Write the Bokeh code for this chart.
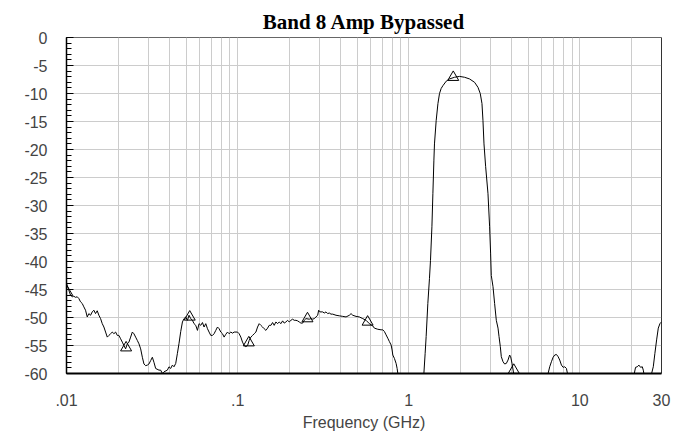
from bokeh.plotting import figure
from bokeh.models import Range1d, FixedTicker, CustomJSTickFormatter, Span
from bokeh.embed import file_html
from bokeh.resources import INLINE

TITLE = "Band 8 Amp Bypassed"
X_LABEL = "Frequency (GHz)"
X_TICKS = [0.01, 0.1, 1, 10, 30]
Y_TICKS = [0, -5, -10, -15, -20, -25, -30, -35, -40, -45, -50, -55, -60]
Y_MIN, Y_MAX = -60, 0
X_MIN, X_MAX = 0.01, 30

# low-frequency stopband (0.01 - 0.86 GHz)
freq_low = [
    0.0100, 0.01031, 0.01055, 0.0108, 0.01103, 0.01129, 0.01155, 0.0118, 0.01208, 0.01236,
    0.01263, 0.01292, 0.01322, 0.01351, 0.01382, 0.01414, 0.01445, 0.01478, 0.01512, 0.01546,
    0.01582, 0.01618, 0.01654, 0.01692, 0.01731, 0.01769, 0.0181, 0.01852, 0.01892, 0.01936,
    0.01981, 0.02024, 0.02071, 0.02119, 0.02166, 0.02215, 0.02267, 0.02316, 0.0237, 0.02425,
    0.02477, 0.02535, 0.02594, 0.02651, 0.02713, 0.02775, 0.02836, 0.02901, 0.02969, 0.03033,
    0.03103, 0.03175, 0.03244, 0.03319, 0.0347, 0.0355, 0.03634, 0.03713, 0.03886, 0.03972,
    0.04064, 0.04158, 0.04249, 0.04348, 0.04448, 0.04546, 0.04651, 0.04759, 0.04863, 0.04975,
    0.0509, 0.052, 0.05321, 0.05445, 0.05563, 0.05692, 0.05824, 0.05952, 0.0609, 0.06231,
    0.06367, 0.06514, 0.06666, 0.0681, 0.06969, 0.07129, 0.07286, 0.07455, 0.07627, 0.07794,
    0.07974, 0.08159, 0.08337, 0.0853, 0.08728, 0.08917, 0.09124, 0.09335, 0.09539, 0.09986,
    0.1021, 0.1044, 0.1068, 0.1092, 0.1117, 0.1143, 0.1168, 0.1195, 0.1223, 0.125,
    0.1279, 0.1308, 0.1337, 0.1367, 0.1399, 0.1429, 0.1463, 0.1497, 0.1529, 0.1565,
    0.1601, 0.1636, 0.1674, 0.1713, 0.175, 0.1791, 0.1832, 0.1872, 0.1915, 0.196,
    0.2003, 0.2049, 0.2096, 0.2142, 0.2192, 0.2242, 0.2292, 0.2344, 0.2399, 0.2451,
    0.2508, 0.2622, 0.2683, 0.2745, 0.2805, 0.287, 0.2937, 0.2976, 0.3029, 0.3141,
    0.3209, 0.3284, 0.336, 0.3433, 0.3513, 0.3594, 0.3758, 0.3929, 0.4114, 0.4301,
    0.4497, 0.4601, 0.4708, 0.492, 0.5145, 0.5386, 0.5631, 0.5887, 0.6163, 0.6298,
    0.6593, 0.6892, 0.7052, 0.7205, 0.7373, 0.7543, 0.7709, 0.7888, 0.7994, 0.807,
    0.8246, 0.8437, 0.8552, 0.8635,
]
db_low = [
    -43.9, -45.1, -46.0, -46.3, -46.2, -46.4, -46.3, -46.6, -47.2, -47.5,
    -48.1, -48.7, -49.9, -49.3, -49.6, -49.0, -48.7, -49.3, -48.8, -49.6,
    -50.2, -51.1, -51.7, -52.6, -53.5, -53.2, -52.9, -52.6, -52.9, -52.6,
    -53.2, -53.2, -53.8, -54.4, -55.0, -55.6, -54.7, -54.4, -53.5, -52.6,
    -52.9, -53.5, -54.1, -54.7, -55.6, -57.1, -58.3, -58.6, -58.5, -58.3,
    -57.7, -57.1, -58.0, -59.1, -59.4, -59.4, -60.0, -59.7, -59.4, -58.8,
    -59.1, -58.5, -58.8, -58.2, -56.4, -54.6, -52.5, -50.8, -50.2, -49.9,
    -50.5, -49.6, -50.2, -50.5, -51.1, -51.4, -52.3, -51.1, -51.4, -50.9,
    -51.7, -51.1, -52.0, -52.6, -53.2, -53.2, -52.9, -52.3, -51.7, -52.0,
    -52.6, -52.9, -53.5, -53.0, -52.6, -52.9, -52.6, -52.8, -52.6, -52.6,
    -52.9, -53.5, -54.4, -55.0, -55.2, -55.0, -54.1, -53.5, -53.2, -52.9,
    -52.6, -51.7, -51.1, -51.4, -51.7, -52.0, -52.3, -51.9, -51.4, -51.4,
    -50.9, -51.4, -50.8, -51.1, -50.8, -51.1, -50.6, -51.0, -50.8, -50.5,
    -50.8, -50.5, -50.3, -50.5, -50.5, -50.6, -50.8, -51.0, -51.0, -50.5,
    -50.2, -50.3, -50.2, -50.3, -50.2, -49.9, -49.6, -48.7, -49.0, -49.0,
    -49.2, -49.0, -49.3, -49.2, -49.4, -49.4, -49.6, -49.7, -49.8, -49.9,
    -49.6, -49.3, -49.6, -49.8, -49.9, -50.2, -50.5, -51.1, -51.5, -51.9,
    -52.1, -52.2, -52.2, -52.5, -53.1, -53.7, -54.3, -54.9, -55.8, -56.7,
    -57.3, -58.2, -59.1, -60.0,
]

# passband (1.2 - 4.1 GHz)
freq_pass = [
    1.226, 1.247, 1.264, 1.293, 1.322, 1.340, 1.366, 1.384, 1.403, 1.414,
    1.447, 1.481, 1.513, 1.547, 1.584, 1.656, 1.731, 1.852, 1.982, 2.119,
    2.267, 2.425, 2.539, 2.618, 2.679, 2.715, 2.753, 2.814, 2.905, 2.969,
    3.009, 3.037, 3.108, 3.176, 3.249, 3.325, 3.370, 3.429, 3.475, 3.556,
    3.634, 3.718, 3.804, 3.887, 3.94, 4.015, 4.102,
]
db_pass = [
    -60.0, -56.4, -53.4, -47.5, -43.0, -39.8, -33.8, -27.9, -21.9, -19.0,
    -14.8, -11.8, -10.0, -9.1, -8.6, -7.8, -7.4, -7.1, -6.95, -7.1,
    -7.4, -8.0, -8.9, -10.0, -11.8, -14.8, -19.0, -23.0, -27.9, -33.8,
    -38.5, -42.5, -44.5, -47.5, -50.5, -51.9, -53.4, -55.2, -57.0, -57.9,
    -58.3, -58.2, -57.6, -56.7, -57.0, -58.2, -60.0,
]

# spurious responses above the passband
freq_high = [
    6.523, 6.666, 6.82, 6.978, 7.131, 7.295, 7.465, 7.628, 7.805, 7.986,
    8.161, 8.349, 8.463,
    20.80, 21.16, 21.66, 22.13, 22.64, 23.17, 23.48, 23.67,
    26.26, 26.86, 27.45, 28.09, 28.73, 29.37, 30.0,
]
db_high = [
    -60.0, -58.8, -57.9, -57.1, -56.7, -56.6, -57.0, -57.6, -58.5, -58.9,
    -58.8, -59.1, -60.0,
    -60.0, -58.9, -58.8, -58.5, -58.9, -58.8, -59.4, -60.0,
    -60.0, -58.8, -56.4, -54.0, -51.9, -51.1, -50.8,
]

# triangle markers
marker_freq = [0.0101, 0.0223, 0.0525, 0.1163, 0.256, 0.575, 1.82, 4.11]
marker_db = [-45.5, -55.4, -49.9, -54.5, -50.2, -50.8, -7.1, -59.4]

assert len(freq_low) == len(db_low)
assert len(freq_pass) == len(db_pass)
assert len(freq_high) == len(db_high)

freq_ghz = freq_low + freq_pass + freq_high
level_db = db_low + db_pass + db_high

FONT = "Liberation Sans"
GRID = "#cccccc"

p = figure(
    width=681, height=436,
    x_axis_type="log",
    x_range=Range1d(X_MIN, X_MAX), y_range=Range1d(Y_MIN, Y_MAX),
    output_backend="svg", toolbar_location=None,
    min_border_left=66, min_border_right=20, min_border_top=37, min_border_bottom=63,
    background_fill_color="white", border_fill_color="white",
)

p.title.text = TITLE
p.title.text_font = "Liberation Serif"
p.title.text_font_style = "bold"
p.title.text_font_size = "21px"
p.title.align = "center"
p.title.standoff = 7
p.title.text_color = "black"

p.outline_line_color = "#666666"
p.outline_line_width = 1

# x axis
minor_x = [m * 10.0 ** e for e in (-2, -1, 0, 1) for m in range(2, 10)]
p.xaxis.ticker = FixedTicker(ticks=X_TICKS, minor_ticks=minor_x)
p.xaxis.formatter = CustomJSTickFormatter(
    code="return tick < 1 ? tick.toString().replace(/^0/, '') : tick.toString();")
p.xaxis.axis_label = X_LABEL
p.xaxis.axis_label_text_font = FONT
p.xaxis.axis_label_text_font_style = "normal"
p.xaxis.axis_label_text_font_size = "16px"
p.xaxis.axis_label_standoff = 5
p.xaxis.major_label_text_font = FONT
p.xaxis.major_label_text_font_size = "16px"
p.xaxis.major_label_standoff = 14
p.xaxis.major_tick_line_color = None
p.xaxis.minor_tick_line_color = None
p.xaxis.axis_line_color = "black"
p.xaxis.axis_line_width = 2

# y axis
p.yaxis.ticker = FixedTicker(ticks=Y_TICKS, minor_ticks=list(range(Y_MIN, Y_MAX + 1)))
p.yaxis.formatter = CustomJSTickFormatter(code="return tick.toString();")
p.yaxis.major_label_text_font = FONT
p.yaxis.major_label_text_font_size = "16px"
p.yaxis.major_label_standoff = 19
p.yaxis.major_tick_in = 7
p.yaxis.major_tick_out = 0
p.yaxis.minor_tick_in = 5
p.yaxis.minor_tick_out = 0
p.yaxis.major_tick_line_color = "black"
p.yaxis.minor_tick_line_color = "black"
p.yaxis.axis_line_color = "black"
p.yaxis.axis_line_width = 1.5

# grids
p.xgrid.grid_line_color = GRID
p.xgrid.minor_grid_line_color = GRID
p.ygrid.grid_line_color = GRID

p.add_layout(Span(location=X_MAX, dimension="height", line_color="black", line_width=1))

p.line(freq_ghz, level_db, line_color="black", line_width=1)
p.scatter(marker_freq, marker_db, marker="triangle", size=11,
          fill_color=None, line_color="black", line_width=1)

open("out.html", "w").write(file_html(p, INLINE))
